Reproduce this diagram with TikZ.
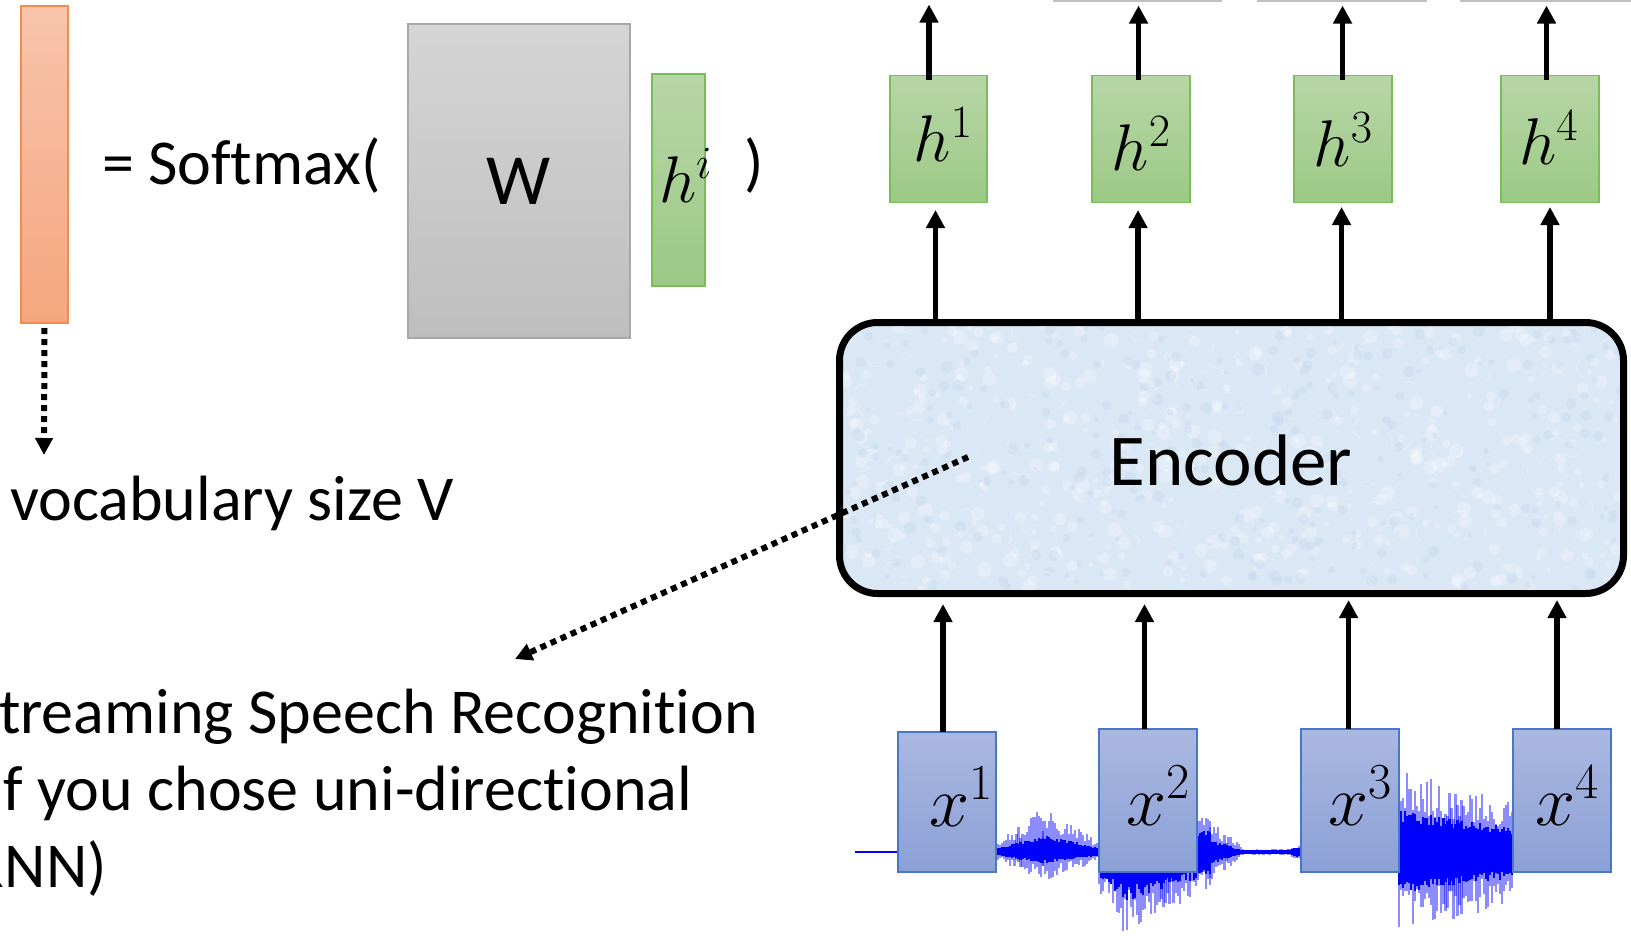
\RequirePackage{fix-cm}
\documentclass[tikz,border=0pt]{standalone}
\usepackage{fontspec}
\newfontfamily\carlito{Carlito}[Ligatures={NoCommon,NoRequired,NoContextual}]
\usetikzlibrary{arrows.meta,calc}

\definecolor{barTop}{RGB}{248,196,172}
\definecolor{barBot}{RGB}{245,166,126}
\definecolor{barEdge}{RGB}{241,140,80}
\definecolor{wTop}{RGB}{213,213,213}
\definecolor{wBot}{RGB}{190,190,190}
\definecolor{wEdge}{RGB}{168,168,168}
\definecolor{hTop}{RGB}{183,214,167}
\definecolor{hBot}{RGB}{156,201,133}
\definecolor{hEdge}{RGB}{122,188,88}
\definecolor{xTop}{RGB}{170,184,225}
\definecolor{xBot}{RGB}{139,160,214}
\definecolor{xEdge}{RGB}{72,118,200}
\definecolor{encFill}{RGB}{218,231,245}
\definecolor{encSpeck}{RGB}{196,214,236}
\definecolor{waveBlue}{RGB}{0,0,255}
\definecolor{capGray}{RGB}{192,192,192}

% one stretch of the speech waveform: x0 x1 up0 up1 down0 down1 core-factor
\newcommand\wavepart[7]{%
  \pgfmathtruncatemacro\wn{(#2-#1)/2}%
  \foreach \wi in {0,...,\wn}{%
    \pgfmathsetmacro\wt{\wi/max(\wn,1)}%
    \pgfmathsetmacro\wx{#1+(#2-#1)*\wt}%
    \pgfmathsetmacro\wup{#3+(#4-#3)*\wt}%
    \pgfmathsetmacro\wdn{#5+(#6-#5)*\wt}%
    \pgfmathsetmacro\wvA{\wup*(0.45+0.55*rnd)}%
    \pgfmathsetmacro\wvB{\wdn*(0.45+0.55*rnd)}%
    \pgfmathsetmacro\wvC{\wup*#7*(0.7+0.3*rnd)}%
    \pgfmathsetmacro\wvD{\wdn*#7*(0.7+0.3*rnd)}%
    \draw[wavelight] (\wx,852-\wvA) -- (\wx,852+\wvB);%
    \draw[wavecore] (\wx,852-\wvC) -- (\wx,852+\wvD);%
  }}

\begin{document}
\begin{tikzpicture}[x=1pt, y=-1pt,
  every node/.style={inner sep=0pt, outer sep=0pt},
  txt/.style={font=\carlito\fontsize{64}{77}\selectfont, anchor=base west},
  hbox/.style={draw=hEdge, line width=1.6pt, top color=hTop, bottom color=hBot},
  xbox/.style={draw=xEdge, line width=1.6pt, top color=xTop, bottom color=xBot,
               minimum width=98pt},
  hlab/.style={font=\fontsize{66}{79}\selectfont, anchor=base},
  xlab/.style={font=\fontsize{72}{86}\selectfont, anchor=base},
  up/.style={line width=5.5pt, -{Triangle[length=18pt,width=18pt]}},
  dotlink/.style={line width=6pt, dash pattern=on 6pt off 5pt,
                  -{Triangle[length=17pt,width=17pt]}},
  wavelight/.style={draw=waveBlue, opacity=.45, line width=2.2pt},
  wavecore/.style={draw=waveBlue, line width=2.2pt}]

\useasboundingbox (0,0) rectangle (1631,935);
\clip (0,0) rectangle (1631,935);
\pgfmathsetseed{4242}

% ---------- left: output distribution = Softmax(W h^i) ----------
\node[draw=barEdge, line width=1.5pt, top color=barTop, bottom color=barBot,
      minimum width=47pt, minimum height=317pt] (bar) at (44.5,164.5) {};
\node[txt] (eq) at (102,184) {= Softmax(};
\node[draw=wEdge, line width=1.5pt, top color=wTop, bottom color=wBot,
      minimum width=222pt, minimum height=314pt,
      font=\carlito\fontsize{72}{86}\selectfont] (W) at (519,181) {W};
\node[hbox, minimum width=53pt, minimum height=212pt] (hi) at (678.5,180) {};
\node[hlab, anchor=base west] (hilab) at (659,202) {$h^i$};
\node[txt] (rp) at (744,184) {)};

\coordinate (vtip) at (44,455);
\draw[dotlink] ($(bar.south)+(0,5)$) -- (vtip);
\node[txt] (vocab) at (10,520) {vocabulary size V};

% ---------- speech waveform (behind the input frames) ----------
\draw[waveBlue, line width=2pt] (855,852) -- (905,852);
\wavepart{996}{1043}{10}{44}{8}{30}{0.4}
\wavepart{1043}{1099}{44}{12}{30}{10}{0.4}
\wavepart{1099}{1125}{30}{30}{40}{83}{0.6}
\wavepart{1125}{1210}{36}{36}{83}{38}{0.6}
\wavepart{1210}{1245}{32}{3}{32}{3}{0.4}
\wavepart{1245}{1288}{3}{3}{3}{3}{0.8}
\wavepart{1288}{1301}{3}{9}{3}{9}{0.7}
\wavepart{1399}{1512}{84}{50}{82}{52}{0.5}

% ---------- encoder ----------
\node[draw=black, line width=7pt, fill=encFill, rounded corners=38pt,
      minimum width=784pt, minimum height=271pt] (enc) at (1231.5,458) {};
\begin{scope}
  \clip[rounded corners=34pt] (843,326) rectangle (1620,590);
  \foreach \k in {1,...,420}{
    \pgfmathsetmacro\tx{843+777*rnd}
    \pgfmathsetmacro\ty{326+264*rnd}
    \pgfmathsetmacro\tr{2.5+5*rnd}
    \fill[white, opacity=.28] (\tx,\ty) circle[radius=\tr];
  }
  \foreach \k in {1,...,300}{
    \pgfmathsetmacro\tx{843+777*rnd}
    \pgfmathsetmacro\ty{326+264*rnd}
    \pgfmathsetmacro\tr{2+4*rnd}
    \fill[encSpeck, opacity=.35] (\tx,\ty) circle[radius=\tr];
  }
  \foreach \k in {1,...,120}{
    \pgfmathsetmacro\tx{843+777*rnd}
    \pgfmathsetmacro\ty{326+264*rnd}
    \pgfmathsetmacro\ta{360*rnd}
    \draw[white, opacity=.3, line width=1pt, line join=round]
      (\tx,\ty) -- ++(\ta:8) -- ++(\ta+50:7);
  }
\end{scope}
\node[font=\carlito\fontsize{73}{88}\selectfont, anchor=base] (enclab) at (1231,485) {Encoder};

% ---------- hidden states ----------
\node[hbox, minimum width=97pt, minimum height=127pt] (h1) at (938.5,139) {};
\node[hbox, minimum width=98pt, minimum height=127pt] (h2) at (1140.75,139) {};
\node[hbox, minimum width=98pt, minimum height=127pt] (h3) at (1342.75,139) {};
\node[hbox, minimum width=98pt, minimum height=127pt] (h4) at (1549.8,139) {};
\node[hlab] (h1lab) at (943,161) {$h^1$};
\node[hlab] (h2lab) at (1141,170) {$h^2$};
\node[hlab] (h3lab) at (1343,166) {$h^3$};
\node[hlab] (h4lab) at (1548.5,164) {$h^4$};

% outputs leaving the hidden states
\draw[up] ($(h1.north)+(-9.5,4)$) -- ($(h1.north)+(-9.5,-71)$);
\draw[up] ($(h2.north)+(-2.2,4)$) -- ($(h2.north)+(-2.2,-70)$);
\draw[up] ($(h3.north)+(-0.2,4)$) -- ($(h3.north)+(-0.2,-70)$);
\draw[up] ($(h4.north)+(-3.3,4)$) -- ($(h4.north)+(-3.3,-70)$);

% encoder to hidden states
\draw[up] ($(h1.south |- enc.north)+(-3,0)$) -- ($(h1.south)+(-3,7.5)$);
\draw[up] ($(h2.south |- enc.north)+(-2.7,0)$) -- ($(h2.south)+(-2.7,7.5)$);
\draw[up] ($(h3.south |- enc.north)+(-1.2,0)$) -- ($(h3.south)+(-1.2,4.5)$);
\draw[up] ($(h4.south |- enc.north)+(0.2,0)$) -- ($(h4.south)+(0.2,4.5)$);

% thin rules at the top edge
\draw[capGray, line width=2pt] (1053,1) -- (1222,1);
\draw[capGray, line width=2pt] (1257,1) -- (1427,1);
\draw[capGray, line width=2pt] (1460,1) -- (1631,1);

% ---------- acoustic input frames ----------
\node[xbox, minimum height=140pt] (x1) at (947,802) {};
\node[xbox, minimum height=143pt] (x2) at (1148,800.5) {};
\node[xbox, minimum height=143pt] (x3) at (1350,800.5) {};
\node[xbox, minimum height=143pt] (x4) at (1562,800.5) {};
\node[xlab] (x1lab) at (961,826) {$x^1$};
\node[xlab] (x2lab) at (1158.5,825) {$x^2$};
\node[xlab] (x3lab) at (1360,825) {$x^3$};
\node[xlab] (x4lab) at (1567.5,825) {$x^4$};

\draw[up] ($(x1.north)+(-4,0)$) -- ($(x1.north |- enc.south)+(-4,10.5)$);
\draw[up] ($(x2.north)+(-3.5,0)$) -- ($(x2.north |- enc.south)+(-3.5,10.5)$);
\draw[up] ($(x3.north)+(-1.4,0)$) -- ($(x3.north |- enc.south)+(-1.4,6.5)$);
\draw[up] ($(x4.north)+(-5,0)$) -- ($(x4.north |- enc.south)+(-5,6.5)$);

% ---------- note on streaming ----------
\coordinate (dstart) at (968,457);
\coordinate (dend) at (515,659);
\draw[dotlink] (dstart) -- (dend);
\node[txt] (note1) at (-1,733) {treaming Speech Recognition};
\node[txt] (note2) at (3.5,810) {f you chose uni-directional};
\node[txt] (note3) at (-30,887) {RNN)};

\end{tikzpicture}
\end{document}
